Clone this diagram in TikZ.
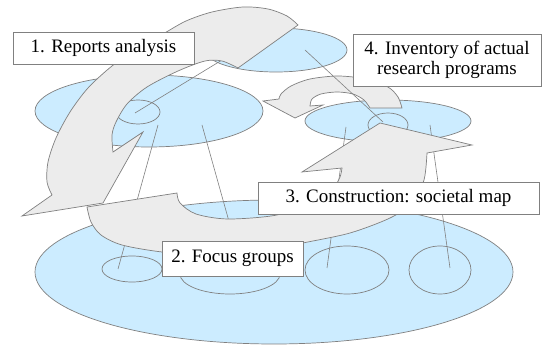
\documentclass[tikz,border=0pt]{standalone}
\usepackage{fontspec}
\setmainfont{Liberation Serif}
\newfontfamily\tagfont{Liberation Serif}
\usetikzlibrary{shapes.geometric}
\definecolor{skyfill}{HTML}{CCECFF}
\definecolor{bandfill}{HTML}{ECECEC}
\definecolor{edgegray}{HTML}{808080}

\begin{document}
\begin{tikzpicture}[
  x=1pt, y=-1pt,
  font=\tagfont\fontsize{19}{19.5}\selectfont,
  blob/.style 2 args={ellipse, draw=edgegray, line width=0.7pt, fill=skyfill,
                      inner sep=0pt, minimum width=#1, minimum height=#2},
  link/.style={draw=edgegray, line width=0.6pt},
  band/.style={draw=edgegray, line width=0.7pt, fill=bandfill, line join=miter},
  tag/.style 2 args={rectangle, draw=edgegray, line width=0.7pt, fill=white,
                     align=center, inner sep=2pt, minimum width=#1, minimum height=#2},
]
\fill[white] (0,0) rectangle (542,347);

% ---- levels (ellipses) ----
\node[blob={478pt}{144pt}] (base)  at (274,272) {};
\node[blob={60pt}{26pt}]   (baseA) at (132,269) {};
\node[blob={100pt}{40pt}]  (baseB) at (230,274) {};
\node[blob={84pt}{48pt}]   (baseC) at (347,270) {};
\node[blob={62pt}{48pt}]   (baseD) at (440,270) {};
\node[blob={228pt}{72pt}]  (midL)  at (149,111) {};
\node[blob={44pt}{24pt}]   (midLs) at (138,112) {};
\node[blob={166pt}{42pt}]  (midR)  at (388,121) {};
\node[blob={40pt}{24pt}]   (midRs) at (388,125) {};
\node[blob={142pt}{44pt}]  (top)   at (276,50)  {};

% ---- small curved arrow (step 4) ----
\draw[band] (370,108) -- (402,108)
  -- plot[smooth] coordinates {(402,108) (398,97) (388,87) (366,79) (338,76)
                               (310,79) (291,86) (281,94) (279,99)}
  -- (263,101) -- (295,118) -- (323,105) -- (310,106)
  -- plot[smooth] coordinates {(310,106) (312,99) (321,94) (337,92) (353,94)
                               (364,100) (370,108)}
  -- cycle;

% ---- links between levels ----
\coordinate (t1) at (305,50);  \coordinate (t2) at (250,43);
\coordinate (l1) at (135,113); \coordinate (l2) at (158,125); \coordinate (l3) at (202,125);
\coordinate (r1) at (383,122); \coordinate (r2) at (346,127); \coordinate (r3) at (430,125);
\coordinate (b1) at (118,269); \coordinate (b2) at (244,275);
\coordinate (b3) at (327,268); \coordinate (b4) at (450,268);
\draw[link] (t1) -- (r1);
\draw[link] (t2) -- (l1);
\draw[link] (l2) -- (b1);
\draw[link] (l3) -- (b2);
\draw[link] (r2) -- (b3);
\draw[link] (r3) -- (b4);

% ---- big curved arrow (step 1) ----
\draw[band] plot[smooth] coordinates {(298,25) (287,16) (268,9) (243,7) (212,12)
                               (186,21) (163,34) (137,49) (112,66) (88,88) (70,112)
                               (56,138) (48,162) (47,182) (52,195)}
  -- (22,216) -- (103,203) -- (143,132) -- (113,152)
  -- plot[smooth] coordinates {(113,152) (112,135) (116,122) (127,104) (147,87)
                               (178,71) (205,61) (222,61) (238,68)}
  -- cycle;

% ---- lower curved arrow (steps 2-3) ----
\draw[band] (87,207) -- (177,193)
  -- plot[smooth] coordinates {(177,193) (180,203) (196,214) (228,219) (277,215)
                               (312,202) (333,188) (340,177) (342,168)}
  -- (302,172) -- (380,123) -- (472,145) -- (427,153)
  -- plot[smooth] coordinates {(427,153) (424,180) (412,203) (390,218) (350,233)
                               (303,243) (260,252) (215,256) (162,252) (122,245)
                               (101,235) (91,222) (87,207)}
  -- cycle;

% ---- step labels ----
\node[tag={181pt}{32pt}] (reports)   at (103.5,48)  {1. Reports analysis};
\node[tag={188pt}{52pt}] (inventory) at (447,60)    {4. Inventory of actual\\research programs};
\node[tag={281pt}{32pt}] (construct) at (398.5,198) {3. Construction: societal map};
\node[tag={141pt}{35pt}] (focus)     at (232.5,258.5) {2. Focus groups};

\end{tikzpicture}
\end{document}
